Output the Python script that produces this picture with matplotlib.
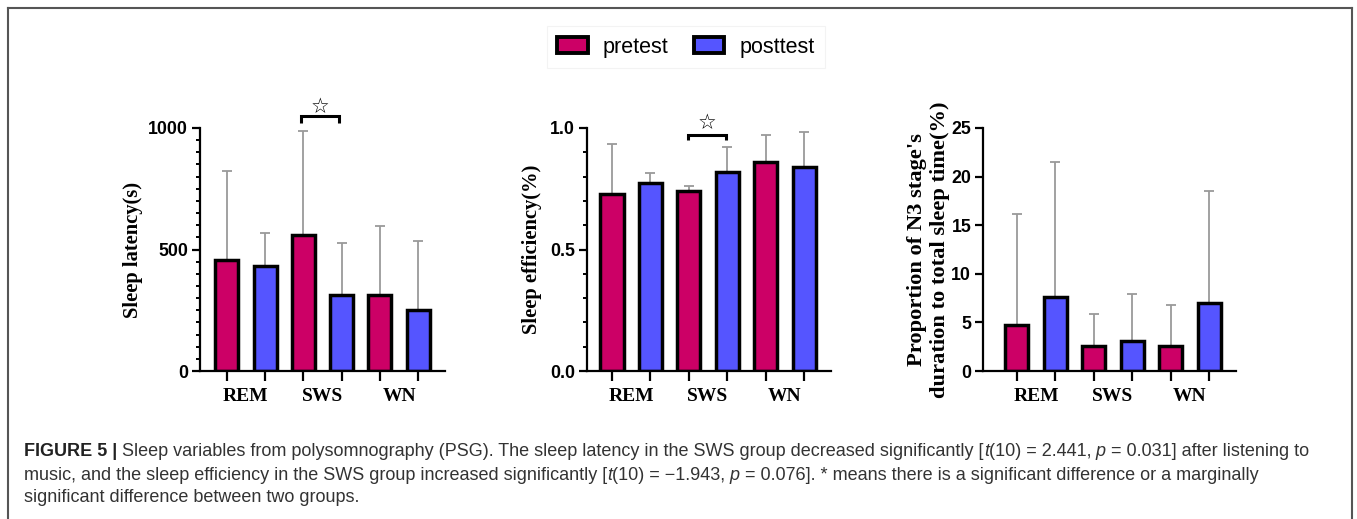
import numpy as np
import matplotlib
matplotlib.use("Agg")
import matplotlib.pyplot as plt
from matplotlib.lines import Line2D
from matplotlib.patches import Patch
from matplotlib.ticker import MultipleLocator, FixedLocator, NullLocator

# data (mean, top of the upward error bar)
groups = ["REM", "SWS", "WN"]
conditions = ["pretest", "posttest"]

latency_mean = [457, 433, 558, 313, 313, 251]
latency_top = [823, 569, 988, 528, 597, 536]

efficiency_mean = [0.728, 0.774, 0.742, 0.820, 0.860, 0.841]
efficiency_top = [0.934, 0.813, 0.763, 0.922, 0.971, 0.984]

n3_mean = [4.73, 7.58, 2.60, 3.12, 2.60, 7.03]
n3_top = [16.15, 21.53, 5.90, 7.95, 6.79, 18.52]

latency_ticks = [0, 500, 1000]
efficiency_ticks = [0.0, 0.5, 1.0]
n3_ticks = [0, 5, 10, 15, 20, 25]

c_pre = "#CC0066"
c_post = "#5555FF"
serif = "Liberation Serif"
sans = "Liberation Sans"

W, H = 1357, 519
fig = plt.figure(figsize=(W / 100, H / 100), dpi=100)


def px_axes(left, right, top, bottom):
    return fig.add_axes([left / W, 1 - bottom / H, (right - left) / W, (bottom - top) / H])


def draw_panel(ax, mean, top, ticks, ylab, xlim_left, minor=None, sig=None, lab_x=-0.28, lab_size=14.8):
    x = np.arange(6)
    colors = [c_pre, c_post] * 3
    mean = np.array(mean)
    top = np.array(top)
    ax.errorbar(x, mean, yerr=[np.zeros(6), top - mean], fmt="none", ecolor="#9a9a9a",
                elinewidth=1.3, capsize=3.6, capthick=1.3, zorder=1)
    ax.bar(x, mean, width=0.6, color=colors, edgecolor="black", linewidth=2.5, zorder=2)
    ax.set_xlim(xlim_left, 5.7)
    ax.set_ylim(ticks[0], ticks[-1])
    for s in ["top", "right"]:
        ax.spines[s].set_visible(False)
    for s in ["left", "bottom"]:
        ax.spines[s].set_linewidth(1.6)
    ax.xaxis.set_major_locator(FixedLocator(x))
    ax.xaxis.set_minor_locator(FixedLocator([0.5, 2.5, 4.5]))
    ax.set_xticklabels([""] * 6)
    ax.set_xticklabels(groups, minor=True, fontfamily=serif, fontweight="bold", fontsize=14)
    ax.tick_params(axis="x", which="major", length=7.5, width=1.6)
    ax.tick_params(axis="x", which="minor", length=0, pad=12)
    ax.set_yticks(ticks)
    if minor:
        ax.yaxis.set_minor_locator(MultipleLocator(minor))
    else:
        ax.yaxis.set_minor_locator(NullLocator())
    ax.tick_params(axis="y", which="major", length=5.5, width=1.6, pad=3)
    ax.tick_params(axis="y", which="minor", length=3, width=1.4)
    for t in ax.get_yticklabels():
        t.set_fontfamily(sans)
        t.set_fontweight("bold")
        t.set_fontsize(12.8)
    ax.set_ylabel(ylab, fontfamily=serif, fontweight="bold", fontsize=lab_size, linespacing=1.2)
    ax.yaxis.set_label_coords(lab_x, 0.5)
    if sig:
        x0, x1, yb, yl, ys = sig
        ax.plot([x0, x0, x1, x1], [yl, yb, yb, yl], color="black", lw=2.2,
                clip_on=False, solid_capstyle="butt", solid_joinstyle="miter")
        ax.text((x0 + x1) / 2, ys, "\u2606", ha="center", va="center", fontsize=15,
                fontfamily="DejaVu Sans", clip_on=False)


ax1 = px_axes(200, 445, 128, 371)
draw_panel(ax1, latency_mean, latency_top, latency_ticks, "Sleep latency(s)", -0.7,
           minor=50, sig=(1.95, 2.92, 1049, 1021, 1088), lab_x=-0.233)

ax2 = px_axes(587, 831, 128, 371)
draw_panel(ax2, efficiency_mean, efficiency_top, efficiency_ticks, "Sleep efficiency(%)", -0.65,
           minor=0.1, sig=(1.97, 2.97, 0.971, 0.951, 1.022), lab_x=-0.184)

ax3 = px_axes(983, 1236, 128, 371)
draw_panel(ax3, n3_mean, n3_top, n3_ticks,
           "Proportion of N3 stage's\nduration to total sleep time(%)", -0.88, lab_x=-0.13,
           lab_size=16.2)

# legend
handles = [Patch(facecolor=c_pre, edgecolor="black", linewidth=2.8),
           Patch(facecolor=c_post, edgecolor="black", linewidth=2.8)]
leg = fig.legend(handles, conditions, loc="center", bbox_to_anchor=(686 / W, 1 - 47 / H),
                 ncol=2, frameon=True, fancybox=False, edgecolor="#f0f0f0",
                 prop={"family": sans, "size": 15.5}, handlelength=1.4, handleheight=0.7,
                 handletextpad=0.7, columnspacing=1.2, borderpad=0.5)
leg.get_frame().set_linewidth(0.8)

# outer border
bc = "#555555"
fig.add_artist(Line2D([8 / W, 8 / W], [0, 1 - 8 / H], color=bc, lw=1.5))
fig.add_artist(Line2D([8 / W, 1352 / W], [1 - 8 / H, 1 - 8 / H], color=bc, lw=1.5))
fig.add_artist(Line2D([1352 / W, 1352 / W], [0, 1 - 8 / H], color=bc, lw=1.5))

# caption
cap_lines = [
    [("FIGURE 5 |", "bold"),
     (" Sleep variables from polysomnography (PSG). The sleep latency in the SWS group decreased significantly [", "normal"),
     ("t", "italic"), ("(10) = 2.441,", "normal"), (" p", "italic"),
     (" = 0.031] after listening to", "normal")],
    [("music, and the sleep efficiency in the SWS group increased significantly [", "normal"),
     ("t", "italic"), ("(10) = \u22121.943,", "normal"), (" p", "italic"),
     (" = 0.076]. * means there is a significant difference or a marginally", "normal")],
    [("significant difference between two groups.", "normal")],
]
cap_y = [452, 475, 497]
cap_size = 13.0
for segs, yy in zip(cap_lines, cap_y):
    prev = None
    for txt, st in segs:
        kw = dict(fontfamily=sans, fontsize=cap_size, va="center", ha="left", color="#333333")
        if st == "bold":
            kw["fontweight"] = "bold"
            kw["color"] = "#222222"
        elif st == "italic":
            kw["style"] = "italic"
        if prev is None:
            prev = fig.text(24 / W, 1 - yy / H, txt, **kw)
        else:
            prev = plt.annotate(txt, xy=(1, 0.5), xycoords=prev, xytext=(0, 0),
                                textcoords="offset points", annotation_clip=False, **kw)

fig.savefig("out.png", dpi=100)
